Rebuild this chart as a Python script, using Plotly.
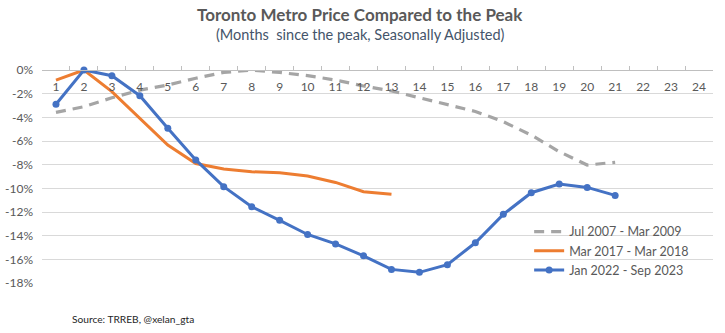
import plotly.graph_objects as go

months = [str(i) for i in range(1, 25)]

gfc_name = "Jul 2007 - Mar 2009"
gfc_vals = [-3.58, -3.1, -2.35, -1.7, -1.27, -0.7, -0.2, -0.02, -0.2, -0.48, -0.85,
            -1.35, -1.77, -2.34, -2.9, -3.5, -4.37, -5.5, -6.9, -8.03, -7.8]

y2017_name = "Mar 2017 - Mar 2018"
y2017_vals = [-0.85, 0.0, -1.83, -4.08, -6.34, -7.9, -8.37, -8.6, -8.68, -8.96, -9.5,
              -10.28, -10.5]

y2022_name = "Jan 2022 - Sep 2023"
y2022_vals = [-2.9, 0.0, -0.48, -2.17, -4.93, -7.6, -9.86, -11.55, -12.7, -13.9, -14.7,
              -15.7, -16.85, -17.1, -16.45, -14.6, -12.2, -10.37, -9.64, -9.92, -10.6]

y_ticks = list(range(-18, 1, 2))
y_tick_labels = [f"{v}%" for v in y_ticks]

title_text = "Toronto Metro Price Compared to the Peak"
subtitle_text = "(Months  since the peak, Seasonally Adjusted)"
source_text = "Source: TRREB, @xelan_gta"

FONT = "Lato"

fig = go.Figure()
fig.add_trace(go.Scatter(
    x=months[:len(gfc_vals)], y=gfc_vals, name=gfc_name, mode="lines",
    line=dict(color="#A5A5A5", width=3.2, dash="10px,7px"), cliponaxis=False))
fig.add_trace(go.Scatter(
    x=months[:len(y2017_vals)], y=y2017_vals, name=y2017_name, mode="lines",
    line=dict(color="#ED7D31", width=3), cliponaxis=False))
fig.add_trace(go.Scatter(
    x=months[:len(y2022_vals)], y=y2022_vals, name=y2022_name, mode="lines+markers",
    line=dict(color="#4472C4", width=3), marker=dict(size=7, color="#4472C4"),
    cliponaxis=False))

fig.update_layout(
    width=725, height=333,
    margin=dict(l=41.5, r=11.5, t=70, b=49.7),
    paper_bgcolor="white", plot_bgcolor="white",
    font=dict(family=FONT, size=12, color="#595959"),
    showlegend=True,
    legend=dict(x=0.726, y=0.31, xanchor="left", yanchor="top",
                bgcolor="rgba(0,0,0,0)", font=dict(size=12.5, color="#595959"),
                tracegroupgap=0, itemwidth=30),
    xaxis=dict(type="category", categoryorder="array", categoryarray=months,
               range=[-0.5, 23.5], anchor="free", position=1, side="bottom",
               showline=True, linecolor="#BFBFBF", linewidth=1,
               ticks="inside", tickson="boundaries", ticklen=4, tickcolor="#BFBFBF",
               ticklabelstandoff=6, automargin=False,
               showgrid=False, tickfont=dict(size=12, color="#595959")),
    yaxis=dict(range=[-18, 0], tickvals=y_ticks, ticktext=y_tick_labels,
               showgrid=True, gridcolor="#D9D9D9", gridwidth=1,
               zeroline=False, showline=False, ticks="",
               ticklabelstandoff=8, automargin=False,
               tickfont=dict(size=12, color="#595959")),
    annotations=[
        dict(text="<b>" + title_text + "</b>", xref="paper", yref="paper",
             x=0.474, y=1, yshift=56, xanchor="center", yanchor="middle",
             showarrow=False, font=dict(size=17, color="#595959", family=FONT)),
        dict(text=subtitle_text, xref="paper", yref="paper",
             x=0.474, y=1, yshift=36, xanchor="center", yanchor="middle",
             showarrow=False, font=dict(size=14.5, color="#44546A", family=FONT)),
        dict(text=source_text, xref="paper", yref="paper",
             x=0.042, y=0, yshift=-36, xanchor="left", yanchor="middle",
             showarrow=False, font=dict(size=10.2, color="#262626", family=FONT)),
    ],
)

fig.write_html("out.html")
